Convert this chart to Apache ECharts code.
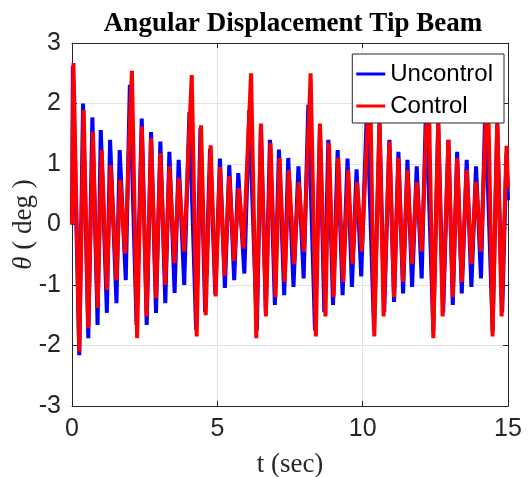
<!DOCTYPE html>
<html>
<head>
<meta charset="utf-8">
<script src="https://cdn.jsdelivr.net/npm/echarts@6/dist/echarts.min.js"></script>
<style>html,body{margin:0;padding:0;background:#fff}#c{width:531px;height:477px}</style>
</head>
<body>
<div id="c"></div>
<script>
// Uncontrol (blue): times of extremes (sec) and values (deg)
var uncontrolT = [0,0.03,0.25,0.38,0.56,0.70,0.88,0.99,1.20,1.31,1.53,1.64,1.85,
  1.99,2.22,2.40,2.57,2.72,2.89,3.04,3.21,3.35,3.53,3.67,3.86,
  4.04,4.27,4.42,4.58,4.75,4.93,5.09,5.26,5.41,5.58,5.72,5.93,
  6.10,6.36,6.50,6.67,6.81,6.98,7.12,7.30,7.44,7.62,7.79,7.97,
  8.13,8.36,8.53,8.68,8.82,8.98,9.14,9.31,9.48,9.63,9.79,9.95,
  10.15,10.39,10.58,10.74,10.92,11.08,11.23,11.39,11.54,11.70,11.86,12.03,
  12.18,12.43,12.60,12.77,12.95,13.10,13.25,13.41,13.58,13.74,13.90,14.07,
  14.22,14.47,14.63,14.80,14.95,15.0];
var uncontrolV = [0,2.62,-2.16,2.0,-1.88,1.77,-1.66,1.56,-1.46,1.40,-1.30,1.23,-0.92,
  2.31,-1.66,1.75,-1.66,1.53,-1.46,1.37,-1.30,1.20,-1.13,1.07,-1.0,
  1.86,-1.74,1.60,-1.45,1.25,-1.15,1.09,-1.05,0.98,-0.92,0.85,-0.81,
  1.89,-1.75,1.60,-1.45,1.40,-1.33,1.24,-1.17,1.10,-1.03,0.96,-0.89,
  1.98,-1.75,1.60,-1.45,1.40,-1.33,1.23,-1.17,1.09,-1.03,0.91,-0.86,
  1.95,-1.75,1.65,-1.45,1.40,-1.28,1.20,-1.14,1.07,-1.03,0.96,-0.89,
  1.95,-1.75,1.65,-1.45,1.40,-1.33,1.20,-1.14,1.07,-1.03,0.96,-0.89,
  1.95,-1.75,1.65,-1.45,1.18,0.4];
// Control (red)
var controlT = [0,0.05,0.25,0.40,0.56,0.72,0.88,1.02,1.20,1.33,1.53,1.66,1.83,
  2.06,2.24,2.40,2.57,2.72,2.89,3.04,3.21,3.35,3.53,3.67,3.86,
  4.12,4.29,4.44,4.60,4.77,4.94,5.09,5.25,5.41,5.58,5.74,5.90,
  6.16,6.34,6.50,6.67,6.83,7.00,7.14,7.32,7.46,7.64,7.80,7.98,
  8.21,8.39,8.53,8.72,8.84,9.00,9.16,9.33,9.50,9.65,9.81,9.97,
  10.25,10.40,10.58,10.72,10.92,11.08,11.23,11.39,11.54,11.70,11.86,12.03,
  12.26,12.43,12.60,12.75,12.95,13.10,13.25,13.41,13.58,13.74,13.90,14.07,
  14.30,14.47,14.63,14.78,14.95,15.0];
var controlV = [0,2.67,-2.10,1.89,-1.71,1.53,-1.38,1.23,-1.08,0.98,-0.92,0.74,-0.48,
  2.54,-1.88,1.62,-1.52,1.43,-1.22,1.18,-1.0,0.96,-0.64,0.77,-0.45,
  2.47,-1.85,1.64,-1.50,1.31,-1.19,0.95,-0.85,0.80,-0.60,0.60,-0.40,
  2.50,-1.88,1.67,-1.52,1.35,-1.20,1.10,-0.95,0.90,-0.65,0.70,-0.45,
  2.50,-1.85,1.67,-1.52,1.35,-1.20,1.10,-0.95,0.90,-0.65,0.70,-0.45,
  2.50,-1.85,1.75,-1.52,1.37,-1.20,1.10,-0.95,0.90,-0.65,0.70,-0.45,
  2.50,-1.88,1.75,-1.52,1.40,-1.20,1.10,-0.95,0.90,-0.65,0.70,-0.45,
  2.50,-1.85,1.75,-1.52,1.30,0.6];
var xTicks = {min: 0, max: 15, interval: 5};
var yTicks = {min: -3, max: 3, interval: 1};
var seriesNames = ['Uncontrol', 'Control'];

function pairs(t, v) { return t.map(function (x, i) { return [x, v[i]]; }); }

var axisColor = '#262626';
var chart = echarts.init(document.getElementById('c'), null, {renderer: 'canvas'});
var baseX = {
  type: 'value', min: xTicks.min, max: xTicks.max, interval: xTicks.interval,
  axisLine: {show: true, onZero: false, lineStyle: {color: axisColor, width: 1}},
  axisTick: {show: true, inside: true, length: 5, lineStyle: {color: axisColor}},
  splitLine: {show: false}
};
var baseY = {
  type: 'value', min: yTicks.min, max: yTicks.max, interval: yTicks.interval,
  axisLine: {show: true, onZero: false, lineStyle: {color: axisColor, width: 1}},
  axisTick: {show: true, inside: true, length: 5, lineStyle: {color: axisColor}},
  splitLine: {show: false}
};
chart.setOption({
  animation: false,
  backgroundColor: '#fff',
  title: {
    text: 'Angular Displacement Tip Beam', left: 288, top: 6, textAlign: 'center',
    textStyle: {fontFamily: 'Liberation Serif', fontWeight: 'bold', fontSize: 27, color: '#000'}
  },
  grid: {left: 72, right: 23, top: 43, bottom: 71, containLabel: false, outerBoundsMode: 'none'},
  legend: {
    data: seriesNames, orient: 'vertical', right: 27, top: 54,
    backgroundColor: '#fff', borderColor: axisColor, borderWidth: 1,
    padding: [8, 11, 5, 4], itemGap: 8, itemWidth: 29, itemHeight: 3, icon: 'rect',
    textStyle: {fontFamily: 'Liberation Sans', fontSize: 24, color: '#000', lineHeight: 24}
  },
  xAxis: [
    Object.assign({}, baseX, {
      position: 'bottom',
      name: 't (sec)', nameLocation: 'middle', nameGap: 45, nameMoveOverlap: false,
      nameTextStyle: {fontFamily: 'Liberation Serif', fontSize: 27, color: axisColor},
      axisLabel: {fontFamily: 'Liberation Sans', fontSize: 25, color: axisColor, margin: 11},
      splitLine: {show: true, lineStyle: {color: '#e3e3e3', width: 1}}
    }),
    Object.assign({}, baseX, {position: 'top', axisLabel: {show: false}})
  ],
  yAxis: [
    Object.assign({}, baseY, {
      position: 'left',
      name: '{t|θ} ( deg )', nameLocation: 'middle', nameGap: 35, nameMoveOverlap: false,
      nameTextStyle: {fontFamily: 'Liberation Serif', fontSize: 27, color: axisColor,
        rich: {t: {fontFamily: 'Liberation Serif', fontStyle: 'italic', fontSize: 27, color: axisColor}}},
      axisLabel: {fontFamily: 'Liberation Sans', fontSize: 25, color: axisColor, margin: 11},
      splitLine: {show: true, lineStyle: {color: '#e3e3e3', width: 1}}
    }),
    Object.assign({}, baseY, {position: 'right', axisLabel: {show: false}})
  ],
  series: [
    {name: seriesNames[0], type: 'line', data: pairs(uncontrolT, uncontrolV), showSymbol: false,
      color: '#0000ff', lineStyle: {color: '#0000ff', width: 4}, z: 2},
    {name: seriesNames[1], type: 'line', data: pairs(controlT, controlV), showSymbol: false,
      color: '#ff0000', lineStyle: {color: '#ff0000', width: 4}, z: 3}
  ]
});
</script>
</body>
</html>
